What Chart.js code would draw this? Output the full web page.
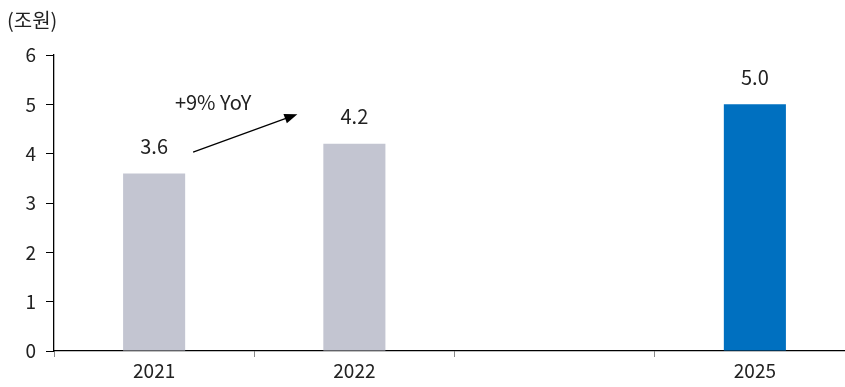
<!DOCTYPE html>
<html>
<head>
<meta charset="utf-8">
<script src="https://cdn.jsdelivr.net/npm/chart.js@4/dist/chart.umd.min.js"></script>
<style>
  html, body { margin: 0; padding: 0; background: #fff; overflow: hidden; }
  #wrap { width: 845px; height: 387px; overflow: hidden; }
</style>
</head>
<body>
<div id="wrap"><canvas id="myChart" width="855" height="387"></canvas></div>
<script>
const years = ['2021', '2022', '', '2025'];
const values = [3.6, 4.2, null, 5.0];
const barColors = ['#C3C5D1', '#C3C5D1', '#C3C5D1', '#0070C0'];
const unitLabel = '(조원)';
const yoyText = '+9% YoY';

const FONT = "'Noto Sans CJK KR', 'Noto Sans', sans-serif";

// value labels + arrow annotation
const extras = {
  id: 'extras',
  afterDatasetsDraw(chart) {
    const ctx = chart.ctx;
    const xs = chart.scales.x, ys = chart.scales.y;
    const meta = chart.getDatasetMeta(0);
    ctx.save();
    ctx.fillStyle = '#222';
    ctx.font = '20px ' + FONT;
    ctx.textAlign = 'center';
    ctx.textBaseline = 'bottom';
    meta.data.forEach(function(bar, i) {
      if (values[i] == null) return;
      ctx.fillText(values[i].toFixed(1), bar.x, bar.y - 17);
    });

    // arrow
    var x1 = xs.getPixelForValue(0) + 39, y1 = ys.getPixelForValue(4.03);
    var x2 = xs.getPixelForValue(1) - 57, y2 = ys.getPixelForValue(4.8);
    ctx.strokeStyle = '#000';
    ctx.lineWidth = 1.3;
    ctx.beginPath();
    ctx.moveTo(x1, y1);
    ctx.lineTo(x2 - 6, y2 + 2.2);
    ctx.stroke();
    var ang = Math.atan2(y2 - y1, x2 - x1);
    ctx.fillStyle = '#000';
    ctx.beginPath();
    ctx.moveTo(x2, y2);
    ctx.lineTo(x2 - 13 * Math.cos(ang) + 5 * Math.sin(ang), y2 - 13 * Math.sin(ang) - 5 * Math.cos(ang));
    ctx.lineTo(x2 - 13 * Math.cos(ang) - 5 * Math.sin(ang), y2 - 13 * Math.sin(ang) + 5 * Math.cos(ang));
    ctx.closePath();
    ctx.fill();

    ctx.fillStyle = '#222';
    ctx.font = '20px ' + FONT;
    ctx.textBaseline = 'middle';
    ctx.fillText(yoyText, xs.getPixelForValue(0) + 59, ys.getPixelForValue(5.03));

    // unit
    ctx.textAlign = 'left';
    ctx.font = '20px ' + FONT;
    ctx.fillText(unitLabel, 7, 20);
    ctx.restore();
  }
};

const ctx = document.getElementById('myChart').getContext('2d');
const chart = new Chart(ctx, {
  type: 'bar',
  data: {
    labels: years,
    datasets: [{
      data: values,
      backgroundColor: barColors,
      barPercentage: 0.62,
      categoryPercentage: 0.5
    }]
  },
  options: {
    responsive: false,
    animation: false,
    layout: { padding: { top: 55, right: 0, left: 0, bottom: 0 } },
    plugins: {
      legend: { display: false },
      tooltip: { enabled: false }
    },
    scales: {
      x: {
        grid: {
          display: true,
          offset: true,
          drawOnChartArea: false,
          drawTicks: true,
          tickLength: 6,
          color: '#888'
        },
        border: { display: true, color: '#000', width: 1.3 },
        ticks: {
          color: '#222',
          font: { family: FONT, size: 19 },
          padding: 2,
          maxRotation: 0
        },
        afterFit: function(s) { s.height = 36; }
      },
      y: {
        min: 0,
        max: 6,
        grid: {
          display: true,
          drawOnChartArea: false,
          drawTicks: true,
          tickLength: 8,
          color: '#000'
        },
        border: { display: true, color: '#000', width: 1.3 },
        ticks: {
          stepSize: 1,
          color: '#222',
          font: { family: FONT, size: 19 },
          padding: 10
        },
        afterFit: function(s) { s.width = 54; }
      }
    }
  },
  plugins: [extras]
});
</script>
</body>
</html>
